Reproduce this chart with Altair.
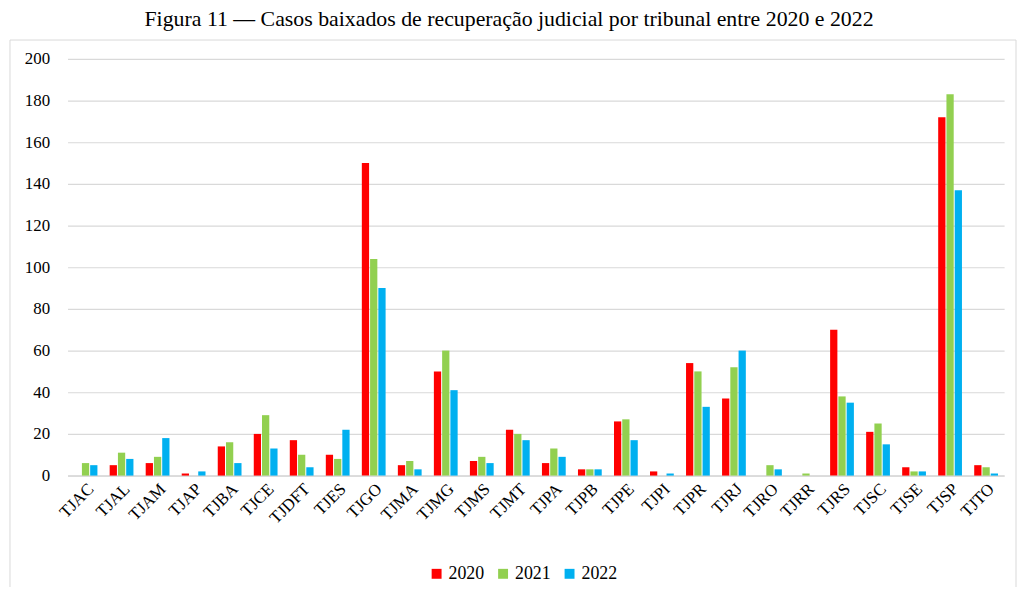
import altair as alt
import pandas as pd

tribunais = ["TJAC","TJAL","TJAM","TJAP","TJBA","TJCE","TJDFT","TJES","TJGO","TJMA","TJMG","TJMS","TJMT",
             "TJPA","TJPB","TJPE","TJPI","TJPR","TJRJ","TJRO","TJRR","TJRS","TJSC","TJSE","TJSP","TJTO"]
v2020 = [0, 5, 6, 1, 14, 20, 17, 10, 150, 5, 50, 7, 22, 6, 3, 26, 2, 54, 37, 0, 0, 70, 21, 4, 172, 5]
v2021 = [6, 11, 9, 0, 16, 29, 10, 8, 104, 7, 60, 9, 20, 13, 3, 27, 0, 50, 52, 5, 1, 38, 25, 2, 183, 4]
v2022 = [5, 8, 18, 2, 6, 13, 4, 22, 90, 3, 41, 6, 17, 9, 3, 17, 1, 33, 60, 3, 0, 35, 15, 2, 137, 1]
anos = ["2020", "2021", "2022"]
cores = ["#FF0000", "#92D050", "#00B0F0"]

rows = []
for ano, vals in zip(anos, [v2020, v2021, v2022]):
    for t, v in zip(tribunais, vals):
        rows.append({"Tribunal": t, "Ano": ano, "Casos": v})
df = pd.DataFrame(rows)

FONT = "Liberation Serif"

frame = alt.Chart(pd.DataFrame({"a": [0]})).mark_rect(
    fillOpacity=0, stroke="#d9d9d9", strokeWidth=1
).encode(
    x=alt.value(-58), x2=alt.value(956), y=alt.value(-19), y2=alt.value(545)
)

bars = alt.Chart(df).mark_bar().encode(
    x=alt.X("Tribunal:N", sort=tribunais,
            scale=alt.Scale(paddingInner=0.34, paddingOuter=0.17),
            axis=alt.Axis(title=None, labelAngle=-45, labelFontSize=17, labelFont=FONT,
                          labelColor="black", ticks=False, domainColor="#d9d9d9",
                          domainWidth=1.5, labelPadding=5, grid=False)),
    xOffset=alt.XOffset("Ano:N", sort=anos, scale=alt.Scale(paddingInner=0.12)),
    y=alt.Y("Casos:Q", scale=alt.Scale(domain=[0, 200], nice=False),
            axis=alt.Axis(title=None, values=list(range(0, 201, 20)), labelFont=FONT,
                          labelFontSize=17, labelColor="black", ticks=False, domain=False,
                          gridColor="#d9d9d9", gridWidth=1.2, labelPadding=18)),
    color=alt.Color("Ano:N", sort=anos, scale=alt.Scale(domain=anos, range=cores),
                    legend=alt.Legend(title=None, orient="none", direction="horizontal",
                                      legendX=363, legendY=510, symbolType="square",
                                      symbolSize=100, symbolStrokeWidth=0,
                                      labelFont=FONT, labelFontSize=18, labelColor="black",
                                      columnPadding=10, labelOffset=3)),
)

chart = alt.layer(frame, bars).properties(
    width=944, height=420,
    autosize=alt.AutoSizeParams(type="none"),
    padding={"left": 60, "top": 49, "right": 14, "bottom": 110},
    title=alt.TitleParams(
        "Figura 11 — Casos baixados de recuperação judicial por tribunal entre 2020 e 2022",
        fontSize=22, fontWeight="normal", color="black",
        anchor="middle", offset=9, dx=-27),
).configure(font=FONT).configure_axis(labelFont=FONT).configure_legend(labelFont=FONT
).configure_title(font=FONT).configure_view(stroke=None)

chart.save("out.html", embed_options={"renderer": "svg", "actions": False})
